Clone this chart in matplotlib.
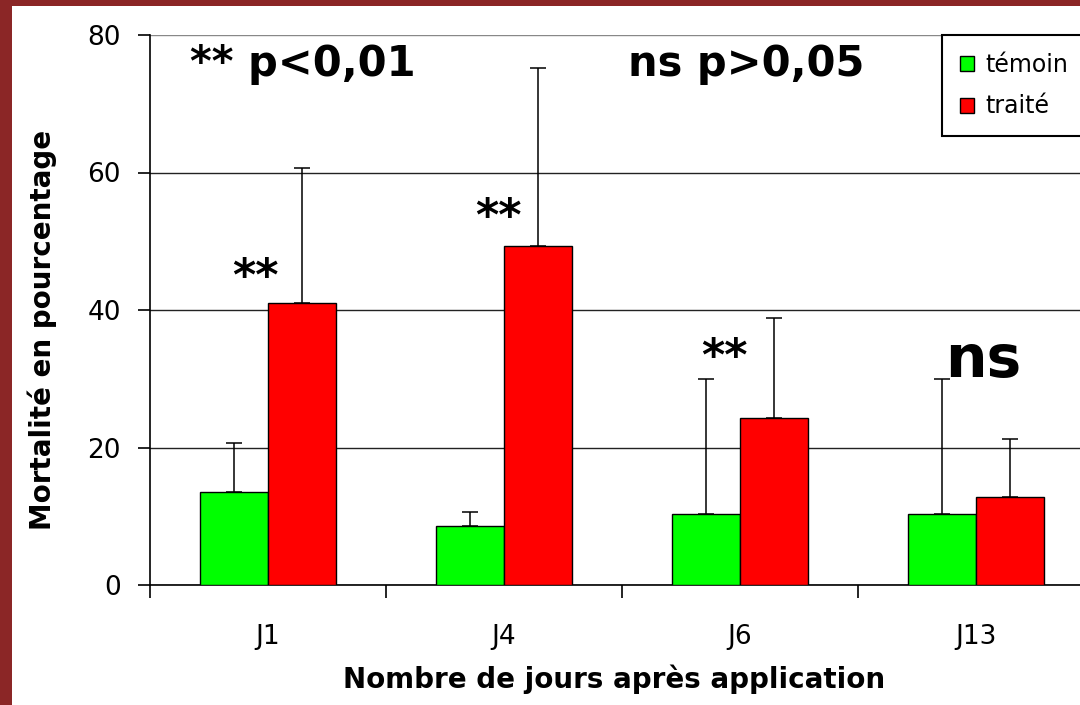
"""
Mortalite temoin / traite selon le nombre de jours apres application
"""
import matplotlib
matplotlib.use("Agg")
import matplotlib.pyplot as plt
from matplotlib.patches import Rectangle
import numpy as np

# donnees
jours = ["J1", "J4", "J6", "J13"]
temoin = [13.5, 8.6, 10.3, 10.3]
temoin_err = [7.15, 2.0, 19.7, 19.7]
traite = [41.0, 49.3, 24.3, 12.75]
traite_err = [19.7, 25.9, 14.5, 8.45]
y_ticks = [0, 20, 40, 60, 80]

x = np.arange(len(jours))
w = 0.29

fig = plt.figure(figsize=(10.8, 7.05), dpi=100)
fig.patch.set_facecolor("#8b2626")
#fond blanc a l'interieur du cadre rouge
fig.add_artist(Rectangle((12/1080, 0), 1, 1-6/705, transform=fig.transFigure,
                         facecolor="white", edgecolor="none", zorder=0))

ax = fig.add_axes([150/1080, 1-585/705, 944/1080, 550/705])
ax.set_facecolor("white")

ax.bar(x-w/2, temoin, w, color="#00ff00", edgecolor="black", lw=1, label="témoin", zorder=3)
ax.bar(x+w/2, traite, w, color="#ff0000", edgecolor="black", lw=1, label="traité", zorder=3)
ax.errorbar(x-w/2, temoin, yerr=[np.zeros(len(x)), temoin_err], fmt="none",
            ecolor="black", elinewidth=1.1, capsize=6, capthick=1.1, zorder=2)
ax.errorbar(x+w/2, traite, yerr=[np.zeros(len(x)), traite_err], fmt="none",
            ecolor="black", elinewidth=1.1, capsize=6, capthick=1.1, zorder=2)

ax.set_xlim(-0.5, len(x)-0.5)
ax.set_ylim(0, 80)
ax.set_yticks(y_ticks)
ax.yaxis.grid(True, color="#222222", lw=1)
ax.set_axisbelow(True)
for s in ["top", "right"]:
    ax.spines[s].set_visible(False)
ax.spines["left"].set_linewidth(1.2)
ax.spines["bottom"].set_linewidth(1.2)
ax.get_ygridlines()[-1].set_color("#888888")

ax.set_xticks(x)
ax.set_xticklabels(jours)
ax.set_xticks(np.arange(len(x)+1)-0.5, minor=True)
ax.tick_params(axis="x", which="major", length=0, pad=28, labelsize=19)
ax.tick_params(axis="x", which="minor", length=9, width=1.2, direction="out")
ax.tick_params(axis="y", length=9, width=1.2, direction="out", pad=12, labelsize=19)

ax.set_xlabel("Nombre de jours après application", fontsize=20, fontweight="bold")
ax.xaxis.set_label_coords(0.4915, -0.145)
ax.set_ylabel("Mortalité en pourcentage", fontsize=20, fontweight="bold")
ax.yaxis.set_label_coords(-0.098, 0.464)

#annotations
ax.text(-0.33, 74, "** p<0,01", fontsize=30, fontweight="bold", va="baseline")
ax.text(1.525, 74, "ns p>0,05", fontsize=30, fontweight="bold", va="baseline")
ax.text(-0.055, 42.9, "**", fontsize=32, fontweight="bold", ha="center", va="baseline")
ax.text(0.975, 51.6, "**", fontsize=32, fontweight="bold", ha="center", va="baseline")
ax.text(1.936, 31.3, "**", fontsize=32, fontweight="bold", ha="center", va="baseline")
ax.text(3.03, 30.3, "ns", fontsize=42, fontweight="bold", ha="center", va="baseline")

leg = ax.legend(loc="upper left", bbox_to_anchor=(942/1080, 1-35/705),
                bbox_transform=fig.transFigure, fontsize=17, frameon=True,
                fancybox=False, edgecolor="black", framealpha=1, borderaxespad=0,
                handlelength=0.6, handleheight=0.6, handletextpad=0.5,
                borderpad=0.75, labelspacing=0.75)
leg.get_frame().set_linewidth(1.5)

fig.savefig("out.png", dpi=100, facecolor=fig.get_facecolor())
